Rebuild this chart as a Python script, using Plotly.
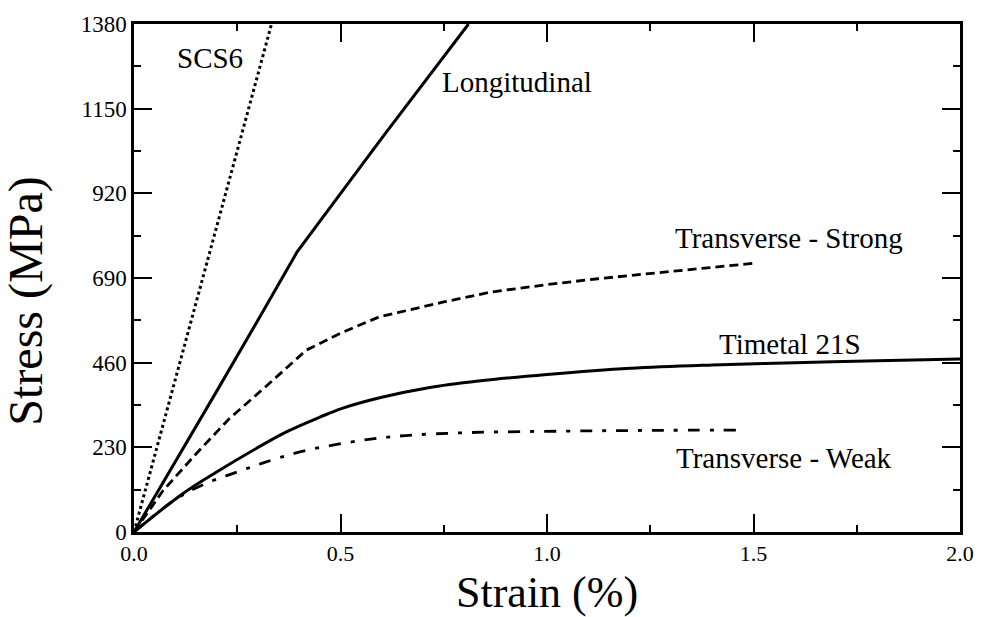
import plotly.graph_objects as go

# Stress-strain curves (strain in %, stress in MPa)
scs6_strain = [0.0, 0.333]
scs6_stress = [0, 1380]

long_strain = [0.0, 0.10, 0.20, 0.30, 0.395, 0.60, 0.81]
long_stress = [0, 190, 382, 575, 761, 1070, 1380]

ts_strain = [0.0, 0.07, 0.15, 0.23, 0.33, 0.417, 0.50, 0.593, 0.643, 0.75, 0.865, 1.0, 1.123, 1.30, 1.50]
ts_stress = [0, 112, 212, 307, 406, 494, 540, 584, 597, 625, 652, 672, 688, 708, 730]

ti_strain = [0.0, 0.118, 0.20, 0.296, 0.369, 0.45, 0.504, 0.60, 0.713, 0.834, 1.0, 1.202, 1.40, 1.60, 1.80, 2.0]
ti_stress = [0, 104, 163, 227, 272, 312, 336, 366, 392, 410, 428, 445, 454, 460, 465, 470]

tw_strain = [0.0, 0.10, 0.176, 0.25, 0.311, 0.407, 0.552, 0.658, 0.81, 1.043, 1.25, 1.467]
tw_stress = [0, 88, 133, 163, 187, 219, 249, 262, 270, 274, 276, 277]

y_ticks = [0, 230, 460, 690, 920, 1150, 1380]
x_ticks = [0.0, 0.5, 1.0, 1.5, 2.0]

labels = [
    ("SCS6", 0.100, 1287),
    ("Longitudinal", 0.740, 1222),
    ("Transverse - Strong", 1.305, 798),
    ("Timetal 21S", 1.412, 512),
    ("Transverse - Weak", 1.308, 200),
]

SERIF = "Liberation Serif, Times New Roman, serif"

fig = go.Figure()
fig.add_trace(go.Scatter(x=scs6_strain, y=scs6_stress, mode="lines",
                         line=dict(color="black", width=3, dash="3px,3px")))
fig.add_trace(go.Scatter(x=long_strain, y=long_stress, mode="lines",
                         line=dict(color="black", width=3)))
fig.add_trace(go.Scatter(x=ts_strain, y=ts_stress, mode="lines",
                         line=dict(color="black", width=2.8, dash="9px,5px")))
fig.add_trace(go.Scatter(x=ti_strain, y=ti_stress, mode="lines", line_shape="spline",
                         line=dict(color="black", width=3)))
fig.add_trace(go.Scatter(x=tw_strain, y=tw_stress, mode="lines", line_shape="spline",
                         line=dict(color="black", width=2.8, dash="12px,10px,4px,10px")))

for text, x, y in labels:
    fig.add_annotation(x=x, y=y, text=text, showarrow=False, xanchor="left",
                       yanchor="middle", font=dict(family=SERIF, size=29, color="black"))

# Axis titles
fig.add_annotation(xref="paper", yref="paper", x=0.5, y=-0.119, text="Strain (%)",
                   showarrow=False, xanchor="center", yanchor="middle",
                   font=dict(family=SERIF, size=44, color="black"))
fig.add_annotation(xref="paper", yref="paper", x=-0.131, y=0.455, text="Stress (MPa)",
                   showarrow=False, textangle=-90, xanchor="center", yanchor="middle",
                   font=dict(family=SERIF, size=48, color="black"))

axis_common = dict(showgrid=False, zeroline=False, showline=True, linecolor="black",
                   linewidth=2.5, mirror="allticks", ticks="inside", tickcolor="black",
                   tickwidth=2, ticklen=18)

fig.update_xaxes(range=[0, 2], tickvals=x_ticks, ticktext=[f"{v:.1f}" for v in x_ticks],
                 tickfont=dict(family=SERIF, size=22, color="black"),
                 minor=dict(dtick=0.25, tick0=0, ticks="inside", ticklen=7,
                            tickwidth=2, tickcolor="black"),
                 **axis_common)
fig.update_yaxes(range=[0, 1380], tickvals=y_ticks, ticktext=[str(v) for v in y_ticks],
                 tickfont=dict(family=SERIF, size=23, color="black"),
                 minor=dict(dtick=115, tick0=0, ticks="inside", ticklen=7,
                            tickwidth=2, tickcolor="black"),
                 **axis_common)

fig.update_layout(width=986, height=617, showlegend=False,
                  margin=dict(l=134, r=22, t=15, b=85),
                  paper_bgcolor="white", plot_bgcolor="white")

fig.write_html("out.html")
